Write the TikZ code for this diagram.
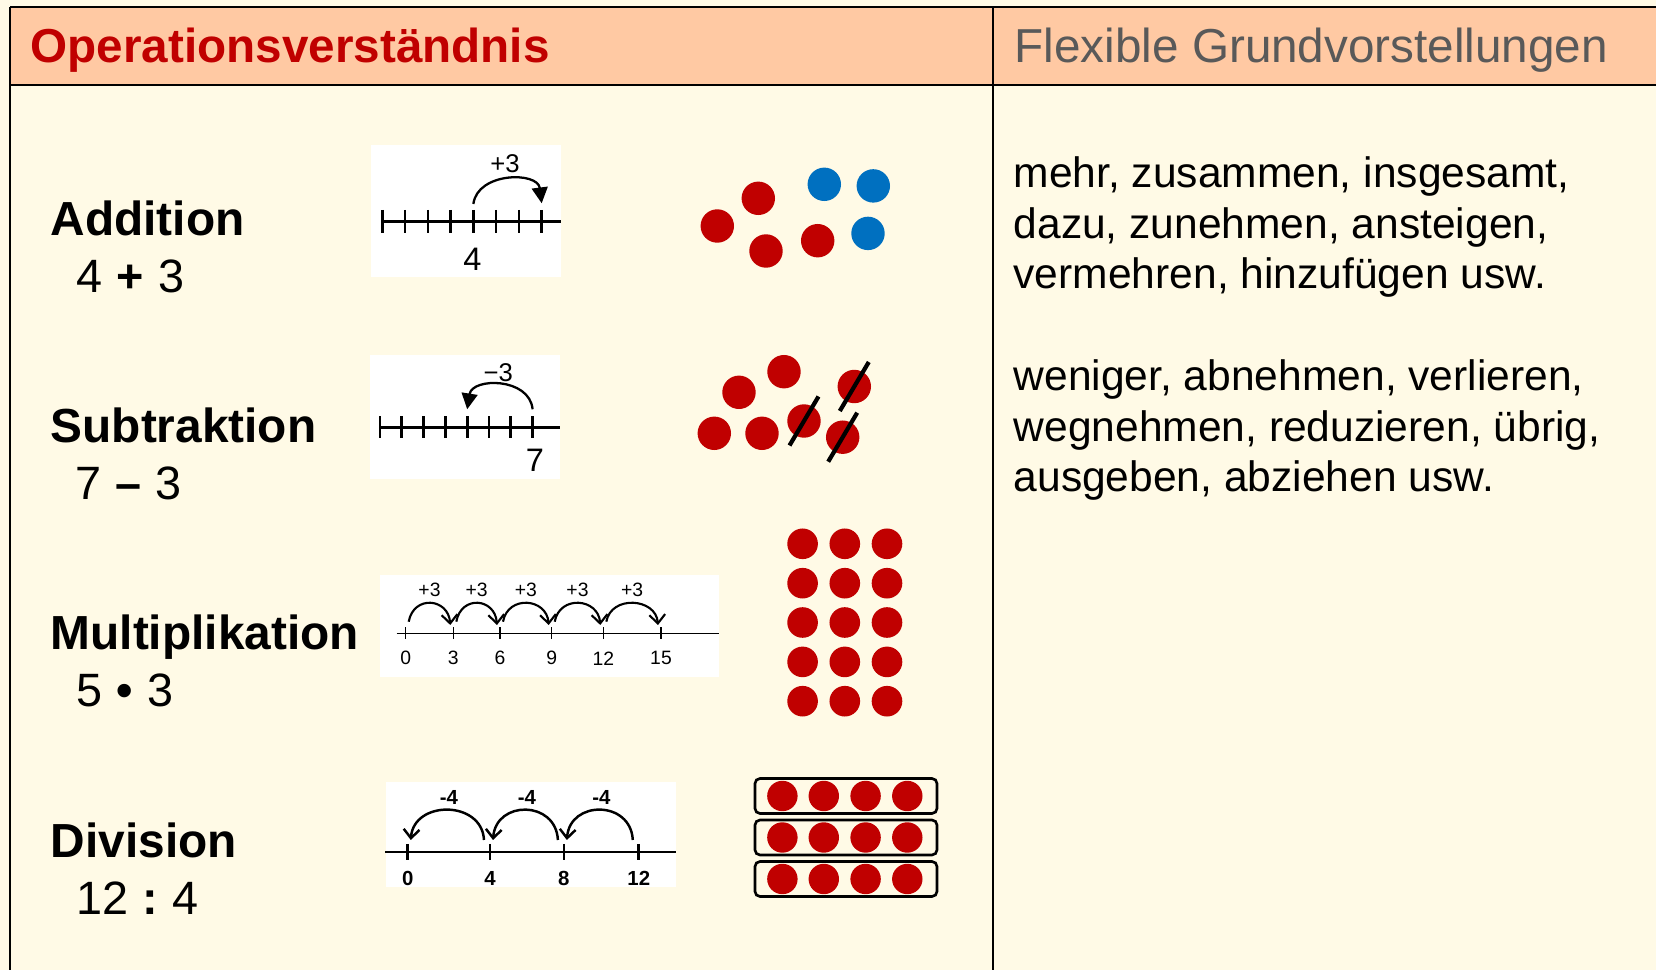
\documentclass[tikz,border=0pt]{standalone}
\usepackage{fontspec}
\setmainfont{Liberation Sans}
\usetikzlibrary{arrows.meta,calc}
\definecolor{cream}{HTML}{FFFAE6}
\definecolor{peach}{HTML}{FFC9A3}
\definecolor{darkred}{HTML}{C00000}
\definecolor{dotblue}{HTML}{0070C0}
\definecolor{headgray}{HTML}{595959}
\newcommand\opsym[1]{\hspace{0.3em}\textbf{#1}\hspace{0.3em}}
\begin{document}
\begin{tikzpicture}[x=0.01cm, y=-0.01cm,
    tabline/.style={line width=0.85pt},
    headtext/.style={anchor=base west, inner sep=0pt, font=\fontsize{13.55}{16}\selectfont},
    opname/.style={anchor=base west, inner sep=0pt, font=\fontsize{13.6}{16}\selectfont\bfseries},
    opterm/.style={anchor=base west, inner sep=0pt, font=\fontsize{13.3}{16}\selectfont},
    words/.style={anchor=base west, inner sep=0pt, align=left, font=\fontsize{12.1}{14.4}\selectfont},
    board/.style={fill=white},
    numline/.style={line width=0.85pt},
    tickmark/.style={line width=0.75pt},
    thinline/.style={line width=0.45pt},
    jump/.style={line width=0.65pt, -{Triangle[length=4.5pt,width=4.5pt]}},
    hop/.style={line width=0.6pt, -{Straight Barb[length=2.5pt,width=4.5pt]}},
    hand/.style={inner sep=0pt, font=\fontsize{9.25}{10}\selectfont},
    jumplabel/.style={inner sep=0pt, font=\fontsize{7.3}{8}\selectfont},
    scalelabel/.style={inner sep=0pt, font=\fontsize{5.5}{6}\selectfont},
    boldlabel/.style={inner sep=0pt, font=\fontsize{5.8}{6}\selectfont\bfseries},
    reddot/.style={fill=darkred},
    bluedot/.style={fill=dotblue},
    dotrow/.style={line width=0.75pt, rounded corners=0.05cm},
    strike/.style={line width=1.2pt}]
\fill[cream] (0,0) rectangle (1656,970);
\useasboundingbox (0,0) rectangle (1656,970);
\fill[peach] (10,7) rectangle (1656,85);
\draw[tabline] (10,7) -- (1656,7);
\draw[tabline] (10,85) -- (1656,85);
\draw[tabline] (10,7) -- (10,970);
\draw[tabline] (993,7) -- (993,970);
\node[headtext, text=darkred, font=\fontsize{13.55}{16}\selectfont\bfseries] (ophead) at (30,63) {Operationsverständnis};
\node[headtext, text=headgray] (gvhead) at (1014,63) {Flexible Grundvorstellungen};

\node[opname] (add) at (50,236) {Addition};
\node[opterm] (addterm) at (76,293) {4\opsym{+}3};
\node[opname] (sub) at (50,443) {Subtraktion};
\node[opterm] (subterm) at (75,500) {7\opsym{–}3};
\node[opname] (mul) at (50,650) {Multiplikation};
\node[opterm] (multerm) at (76,707) {5\opsym{•}3};
\node[opname] (div) at (50,857) {Division};
\node[opterm] (divterm) at (76,915) {12\opsym{:}4};

\node[words] (addwords) at (1013,289) {mehr, zusammen, insgesamt,\\dazu, zunehmen, ansteigen,\\vermehren, hinzufügen usw.};
\node[words] (subwords) at (1013,492) {weniger, abnehmen, verlieren,\\wegnehmen, reduzieren, übrig,\\ausgeben, abziehen usw.};

\fill[board] (371,145) rectangle (561,277);
\draw[numline] (382.3,221.7) -- (561,221.7);
\foreach \i in {0,...,7}{
  \coordinate (a\i) at ({382.3+22.77*\i},221.7);
  \draw[tickmark] (a\i) ++(0,-11.7) -- ++(0,23.4);
}
\node[hand] (anum) at (472.3,259) {4};
\node[jumplabel] (ajump) at (505,164) {+3};
\draw[jump] ([yshift=0.177cm]a4) .. controls +(4,-32) and +(-4,-32) .. ([yshift=0.184cm]a7);

\foreach \x/\y in {717.3/226, 758.3/198.3, 766/251, 817.7/240.7}
  \fill[reddot] (\x,\y) circle[radius=0.167cm];
\foreach \x/\y in {824.3/184.3, 873.3/185.9, 868/233.4}
  \fill[bluedot] (\x,\y) circle[radius=0.167cm];

\fill[board] (370,355) rectangle (560,479);
\draw[numline] (380,427.3) -- (560,427.3);
\foreach \i in {0,...,7}{
  \coordinate (s\i) at ({380+21.8*\i},427.3);
  \draw[tickmark] (s\i) ++(0,-11.2) -- ++(0,22.4);
}
\node[hand] (snum) at (535,460) {7};
\node[jumplabel] (sjump) at (498.3,372.5) {−3};
\draw[jump] ([yshift=0.18cm]s7) .. controls +(-3,-32) and +(5,-32) .. ([yshift=0.18cm]s4);

\foreach \x/\y in {714.3/433.3, 762/433.3, 739/392.3, 784/371.7, 804/421, 854.3/386.5, 842.7/437.2}
  \fill[reddot] (\x,\y) circle[radius=0.167cm];
\foreach \x/\y in {804/421, 854.3/386.5, 842.7/437.2}
  \draw[strike] (\x,\y) ++(-14.5,24.5) -- ++(29,-49);

\fill[board] (380,575) rectangle (719,677);
\draw[thinline] (396.7,633.3) -- (719,633.3);
\foreach \v/\x in {0/405.7, 3/453.3, 6/500, 9/551.7, 12/603.3, 15/661}{
  \coordinate (m\v) at (\x,633.3);
  \draw[thinline] (m\v) ++(0,-6) -- ++(0,12);
  \node[scalelabel] (mnum\v) at (\x,658.3) {\v};
}
\foreach \a/\b in {0/3, 3/6, 6/9, 9/12, 12/15}{
  \draw[hop] ([xshift=0.03cm, yshift=0.116cm]m\a) .. controls +(5,-27) and +(-2,-27) .. ([xshift=-0.03cm, yshift=0.083cm]m\b);
  \node[scalelabel] (mjump\a) at ($(m\a)!0.5!(m\b)+(0,-43)$) {+3};
}

\foreach \x in {802.6, 844.8, 887}
  \foreach \y in {543.8, 583.2, 622.5, 661.9, 701.2}
    \fill[reddot] (\x,\y) circle[radius=0.153cm];

\fill[board] (386,782) rectangle (676,887);
\draw[thinline, line width=0.55pt] (385,852) -- (676,852);
\foreach \v/\x in {0/407.8, 4/490, 8/563.9, 12/638.8}{
  \coordinate (d\v) at (\x,852);
  \draw[tickmark] (d\v) ++(0,-8) -- ++(0,16);
  \node[boldlabel] (dnum\v) at (\x,878) {\v};
}
\foreach \b/\a in {4/0, 8/4, 12/8}{
  \draw[hop, line width=0.7pt] ([xshift=-0.06cm, yshift=0.12cm]d\b) .. controls +(-2,-40) and +(3,-40) .. ([xshift=0.03cm, yshift=0.12cm]d\a);
  \node[boldlabel] (djump\b) at ($(d\a)!0.5!(d\b)+(0,-55)$) {-4};
}

\foreach \y in {796, 837.5, 879}{
  \draw[dotrow] (755,{\y-17.5}) rectangle (937,{\y+17.5});
  \foreach \x in {782.4, 823.8, 865.6, 907.3}
    \fill[reddot] (\x,\y) circle[radius=0.152cm];
}
\end{tikzpicture}
\end{document}
